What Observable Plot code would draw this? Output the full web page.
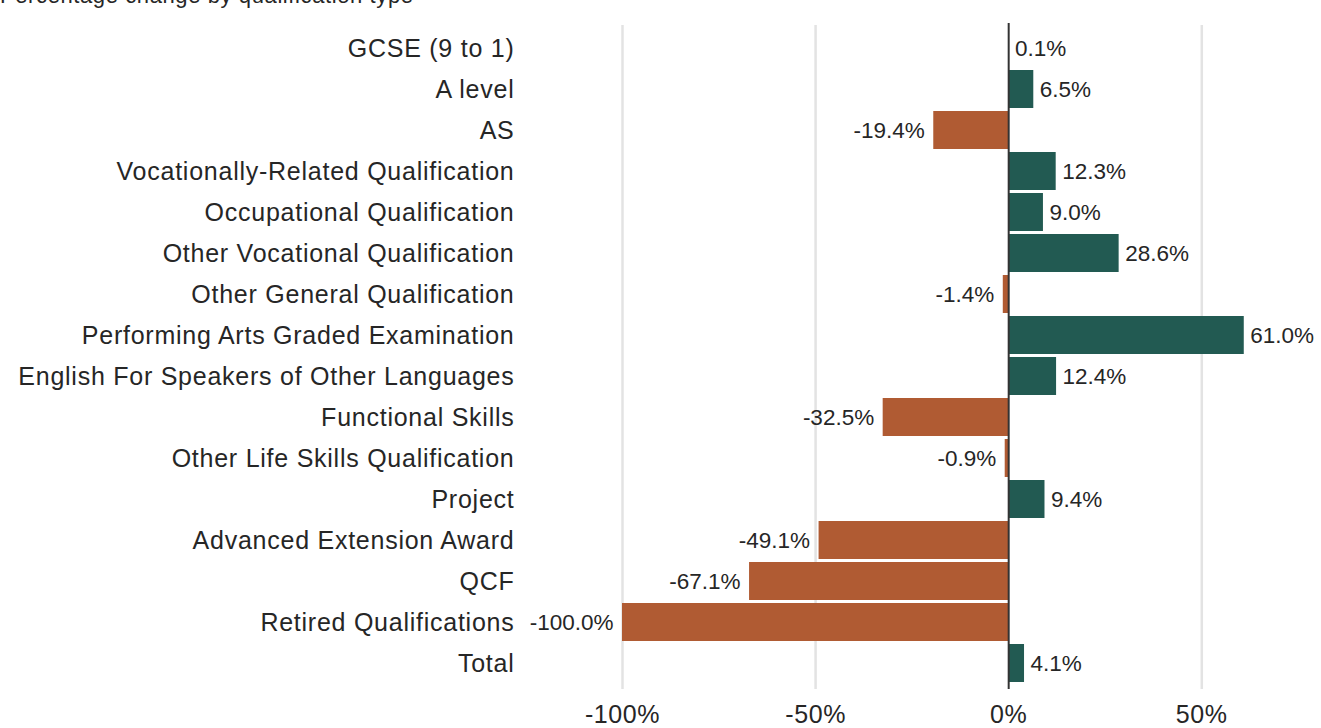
<!DOCTYPE html>
<html>
<head>
<meta charset="utf-8">
<script src="https://cdn.jsdelivr.net/npm/d3@7"></script>
<script src="https://cdn.jsdelivr.net/npm/@observablehq/plot@0.6"></script>
<style>
  body { margin: 0; background: #fff; font-family: "Liberation Sans", Arial, sans-serif; }
  #wrap { position: relative; width: 1321px; height: 728px; overflow: hidden; }
  #title { position: absolute; left: 0; top: -17px; font-size: 22px; color: #262626; white-space: nowrap; letter-spacing: 0.6px; }
  #chart { position: absolute; left: 0; top: 0; }
  #chart svg g[aria-label="y-axis tick label"] text { letter-spacing: 0.75px; }
  #chart svg g[aria-label="x-axis tick label"] text { letter-spacing: 0.6px; }
</style>
</head>
<body>
<div id="wrap">
  <div id="chart"></div>
  <div id="title">Percentage change by qualification type</div>
</div>
<script>
const categories = [
  "GCSE (9 to 1)", "A level", "AS", "Vocationally-Related Qualification",
  "Occupational Qualification", "Other Vocational Qualification",
  "Other General Qualification", "Performing Arts Graded Examination",
  "English For Speakers of Other Languages", "Functional Skills",
  "Other Life Skills Qualification", "Project", "Advanced Extension Award",
  "QCF", "Retired Qualifications", "Total"
];
const changes = [0.1, 6.5, -19.4, 12.3, 9.0, 28.6, -1.4, 61.0, 12.4, -32.5, -0.9, 9.4, -49.1, -67.1, -100.0, 4.1];
const xTicks = [-100, -50, 0, 50];

const data = categories.map((c, i) => ({ category: c, value: changes[i] }));
const fmt = v => v.toFixed(1) + "%";

const chart = Plot.plot({
  width: 1321,
  height: 728,
  marginLeft: 622,
  marginRight: 0,
  marginTop: 27,
  marginBottom: 43,
  style: { fontFamily: "Liberation Sans, Arial, sans-serif", fontSize: "25px", color: "#262626", background: "#fff" },
  x: { domain: [-100, 81], ticks: xTicks, tickFormat: d => d + "%", label: null, tickSize: 0, tickPadding: 20 },
  y: { domain: categories, label: null, tickSize: 0, tickPadding: 108, paddingInner: 0.07, paddingOuter: 0 },
  marks: [
    Plot.ruleX(xTicks.filter(d => d !== 0), { stroke: "#e3e3e3", strokeWidth: 2.5, insetTop: -2, insetBottom: -4 }),
    Plot.barX(data, {
      x: "value", y: "category",
      fill: d => d.value < 0 ? "#b05b33" : "#225a52"
    }),
    Plot.ruleX([0], { stroke: "#333", strokeWidth: 2, insetTop: -4, insetBottom: -4 }),
    Plot.text(data.filter(d => d.value >= 0), {
      x: "value", y: "category", text: d => fmt(d.value),
      textAnchor: "start", dx: 6, fontSize: 22.5, fill: "#262626"
    }),
    Plot.text(data.filter(d => d.value < 0), {
      x: "value", y: "category", text: d => fmt(d.value),
      textAnchor: "end", dx: -9, fontSize: 22.5, fill: "#262626"
    })
  ]
});
document.getElementById("chart").appendChild(chart);
</script>
</body>
</html>
